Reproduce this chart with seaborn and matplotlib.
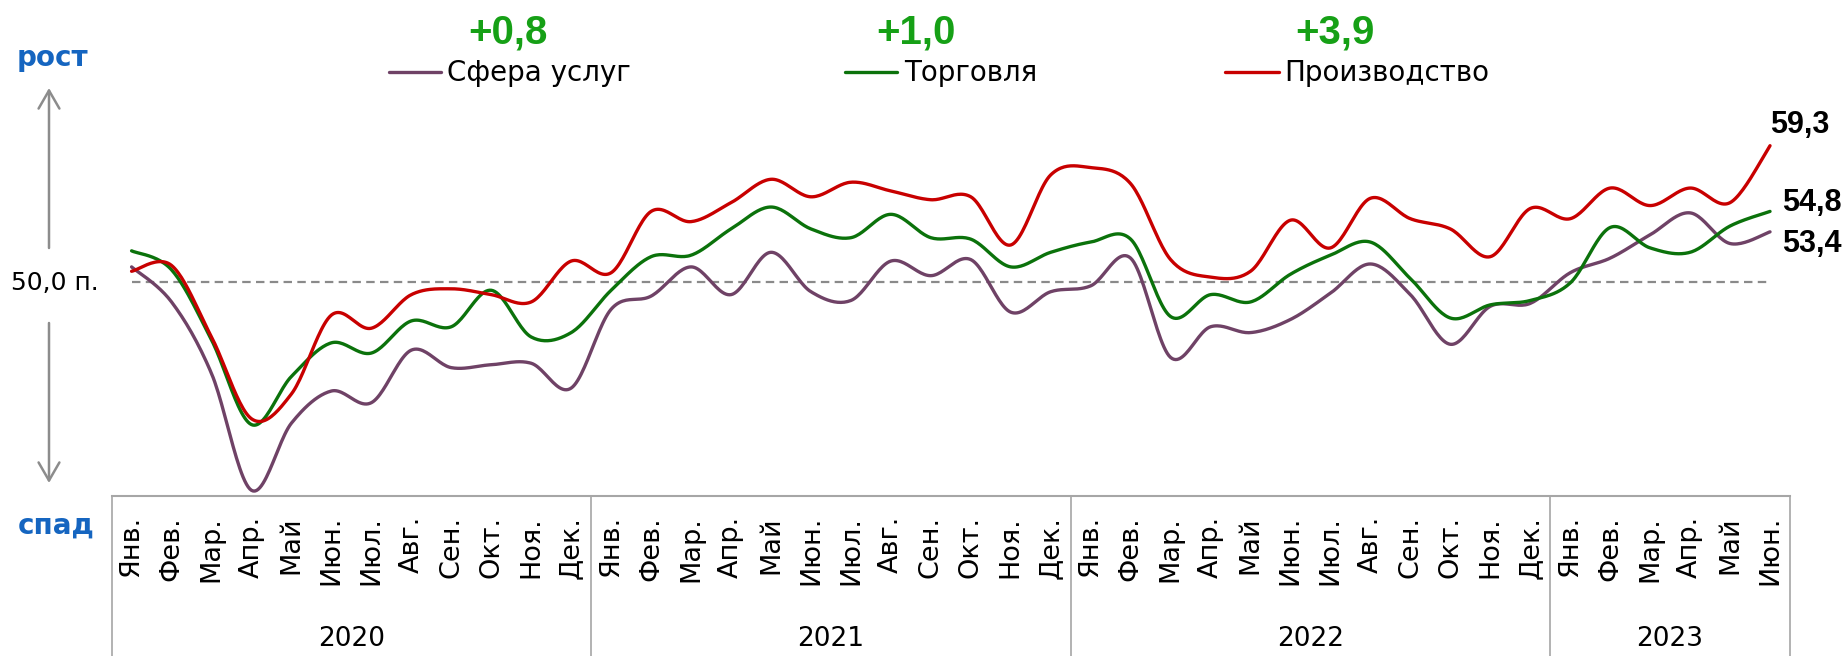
import numpy as np
import pandas as pd
import matplotlib
matplotlib.use('Agg')
import matplotlib.pyplot as plt
import seaborn as sns
from matplotlib.lines import Line2D
from matplotlib.patches import FancyArrowPatch, ArrowStyle
import matplotlib.transforms as mtransforms

# ---------------- data ----------------
months = ['Янв.', 'Фев.', 'Мар.', 'Апр.', 'Май', 'Июн.', 'Июл.', 'Авг.', 'Сен.', 'Окт.', 'Ноя.', 'Дек.']
years = ['2020', '2021', '2022', '2023']
year_months = [12, 12, 12, 6]

services = [51.0, 48.6, 43.7, 35.7, 40.3, 42.5, 41.7, 45.3, 44.1, 44.3, 44.4, 42.7,
            48.1, 49.0, 51.0, 49.1, 52.0, 49.3, 48.7, 51.4, 50.4, 51.5, 47.9, 49.3,
            49.7, 51.6, 44.8, 46.9, 46.5, 47.4, 49.2, 51.2, 49.1, 45.7, 48.3, 48.5,
            50.6, 51.6, 53.2, 54.7, 52.6, 53.4]
trade = [52.1, 50.8, 46.0, 40.2, 43.5, 45.8, 45.1, 47.3, 46.9, 49.4, 46.2, 46.5,
         49.4, 51.7, 51.8, 53.6, 55.1, 53.6, 53.0, 54.6, 53.0, 52.9, 51.0, 52.0,
         52.7, 52.9, 47.6, 49.1, 48.6, 50.5, 51.8, 52.7, 50.2, 47.5, 48.4, 48.7,
         49.9, 53.7, 52.3, 52.0, 53.8, 54.8]
production = [50.7, 51.1, 46.2, 40.6, 42.3, 47.7, 46.8, 49.1, 49.5, 49.1, 48.6, 51.4,
              50.6, 54.8, 54.1, 55.4, 57.0, 55.8, 56.8, 56.2, 55.6, 55.8, 52.5, 57.3,
              57.8, 56.7, 51.5, 50.3, 50.7, 54.2, 52.3, 55.7, 54.3, 53.6, 51.7, 55.0,
              54.3, 56.4, 55.2, 56.4, 55.4, 59.3]

series_names = ['Сфера услуг', 'Торговля', 'Производство']
series_colors = ['#6F4266', '#0B720B', '#C80000']
last_labels = ['53,4', '54,8', '59,3']
change_labels = ['+0,8', '+1,0', '+3,9']
threshold = 50.0
threshold_label = '50,0 п.'

# ---------------- helpers ----------------
W, H = 1842, 656


def fx(x):
    return x / W


def fy(y):
    return 1 - y / H


def excel_smooth(vals, n=24):
    """Excel-style smoothed line (Bezier through the points)."""
    y = np.asarray(vals, float)
    pts = np.column_stack([np.arange(len(y), dtype=float), y])
    N = len(pts)
    t = np.linspace(0, 1, n + 1)[1:]
    out = [pts[0]]
    for i in range(N - 1):
        p0 = pts[i - 1] if i > 0 else pts[i]
        p1, p2 = pts[i], pts[i + 1]
        p3 = pts[i + 2] if i + 2 < N else pts[i + 1]
        c1 = p1 + (p2 - p0) / 6
        c2 = p2 - (p3 - p1) / 6
        seg = (((1 - t) ** 3)[:, None] * p1 + (3 * (1 - t) ** 2 * t)[:, None] * c1
               + (3 * (1 - t) * t ** 2)[:, None] * c2 + (t ** 3)[:, None] * p2)
        out.extend(seg)
    return np.array(out)


# ---------------- figure ----------------
sns.set_theme(style='white')
plt.rcParams['font.family'] = ['DejaVu Sans']

fig = plt.figure(figsize=(W / 100, H / 100), dpi=100)
ax = fig.add_axes([fx(111.6), fy(496), fx(1790) - fx(111.6), fy(100) - fy(496)])

frames = []
for name, vals in zip(series_names, [services, trade, production]):
    sm = excel_smooth(vals)
    frames.append(pd.DataFrame({'x': sm[:, 0], 'y': sm[:, 1], 'series': name}))
df = pd.concat(frames, ignore_index=True)

n = len(services)
ax.plot([0, n - 1], [threshold, threshold], color='#8A8A8A', lw=1.6,
        dashes=(3.8, 2.4), zorder=1)

sns.lineplot(data=df, x='x', y='y', hue='series', hue_order=series_names,
             palette=series_colors, sort=False, estimator=None, legend=False,
             linewidth=2.4, ax=ax, zorder=3)

ax.set_xlim(-0.5, n - 0.5)
ax.set_ylim(35.31, 62.43)
ax.set_xticks([])
ax.set_yticks([])
ax.set_xlabel('')
ax.set_ylabel('')
for s in ['top', 'left', 'right']:
    ax.spines[s].set_visible(False)
ax.spines['bottom'].set_color('#A6A6A6')
ax.spines['bottom'].set_linewidth(1.5)

# category axis (months / years)
blend = mtransforms.blended_transform_factory(ax.transData, fig.transFigure)
idx = 0
bounds = [-0.5]
for yr, cnt in zip(years, year_months):
    for m in range(cnt):
        ax.text(idx + m, fy(516), months[m], rotation=90, ha='center', va='top',
                fontsize=19.5, color='black', transform=blend)
    ax.text(idx + (cnt - 1) / 2, fy(639), yr, ha='center', va='center',
            fontsize=19, color='black', transform=blend)
    idx += cnt
    bounds.append(idx - 0.5)
for b in bounds:
    ax.plot([b, b], [0, fy(496)], color='#A6A6A6', lw=1.2, transform=blend,
            clip_on=False)

# last values
offsets = [(8.6, -8.6), (8.6, 5.8), (0, 15)]
for vals, lab, off in zip([services, trade, production], last_labels, offsets):
    ax.annotate(lab, xy=(n - 1, vals[-1]), xytext=off, textcoords='offset points',
                ha='left', va='center', fontsize=22, fontweight='bold',
                family='Liberation Sans', color='black')

# left decorations
blue = '#1565C0'
fig.text(fx(52), fy(58), 'рост', ha='center', va='center', fontsize=20,
         fontweight='bold', color=blue)
fig.text(fx(56), fy(526), 'спад', ha='center', va='center', fontsize=20,
         fontweight='bold', color=blue)
fig.text(fx(55), fy(283), threshold_label, ha='center', va='center', fontsize=18,
         color='black')
style = ArrowStyle('->', head_length=13, head_width=7.5)
for (y0, y1) in [(248, 88), (323, 483)]:
    arr = FancyArrowPatch((fx(49), fy(y0)), (fx(49), fy(y1)), arrowstyle=style,
                          mutation_scale=1, color='#8C8C8C', lw=1.8,
                          transform=fig.transFigure, shrinkA=0, shrinkB=0)
    fig.add_artist(arr)

# legend (manual) and change labels
legend_pos = [(389, 441, 447), (845, 897, 904), (1225, 1279, 1284)]
change_x = [508, 916, 1335]
for name, col, (x0, x1, xt), chg, cx in zip(series_names, series_colors, legend_pos,
                                             change_labels, change_x):
    fig.add_artist(Line2D([fx(x0), fx(x1)], [fy(72), fy(72)], color=col, lw=2.4,
                          transform=fig.transFigure))
    fig.text(fx(xt), fy(73), name, ha='left', va='center', fontsize=20, color='black')
    fig.text(fx(cx), fy(32), chg, ha='center', va='center', fontsize=29,
             fontweight='bold', family='Liberation Sans', color='#16A016')

fig.savefig('out.png', dpi=100)
